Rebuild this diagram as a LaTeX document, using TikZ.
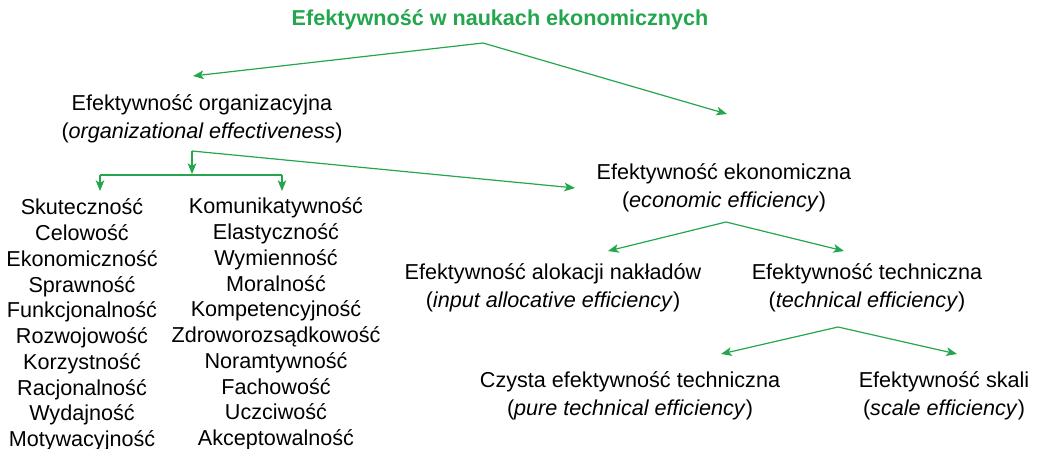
\documentclass[tikz,border=0pt]{standalone}
\usepackage{fontspec}
\setmainfont{Liberation Sans}
\usetikzlibrary{positioning,arrows.meta,calc}
\definecolor{effgreen}{RGB}{36,166,78}

\begin{document}
\begin{tikzpicture}[
    x=0.75pt, y=-0.75pt,
    lbl/.style={align=center, inner sep=0pt, font=\fontsize{16.2}{21}\selectfont},
    lst/.style={align=center, inner sep=0pt, font=\fontsize{16.2}{19.3}\selectfont},
    arrow/.style={-{Stealth[length=8pt, width=6.5pt, inset=2pt]}, effgreen, line width=0.9pt}
]
\useasboundingbox (0,0) rectangle (1042,449);

% Title
\node[lbl, font=\fontsize{16.2}{21}\selectfont\bfseries, text=effgreen] (title) at (500,20) {Efektywność w naukach ekonomicznych};

% Main branches
\node[lbl] (org) at (202,119) {Efektywność organizacyjna\\(\textit{organizational effectiveness})};
\node[lbl] (econ) at (724,188) {Efektywność ekonomiczna\\(\textit{economic efficiency})};

\coordinate (split0) at (483,43);
\coordinate (orgin) at (193,76);
\coordinate (econin) at (727,114);
\draw[arrow] (split0) -- (orgin);
\draw[arrow] (split0) -- (econin);

% Organizational lists
\node[lst] (listA) at (82,325) {Skuteczność\\Celowość\\Ekonomiczność\\Sprawność\\Funkcjonalność\\Rozwojowość\\Korzystność\\Racjonalność\\Wydajność\\Motywacyjność};
\node[lst] (listB) at (276,324) {Komunikatywność\\Elastyczność\\Wymienność\\Moralność\\Kompetencyjność\\Zdroworozsądkowość\\Noramtywność\\Fachowość\\Uczciwość\\Akceptowalność};

\coordinate (split1) at (192,151);
\coordinate (bar1) at (192,174);
\coordinate (barA) at (100,175);
\coordinate (barB) at (282,175);
\coordinate (econin2) at (575,188);
\draw[arrow] (split1) -- (bar1);
\draw[effgreen, line width=0.9pt] (barA) -- (barB);
\draw[arrow] (barA) -- ++(0,16);
\draw[arrow] (barB) -- ++(0,16);
\draw[arrow] (split1) -- (econin2);

% Economic efficiency
\node[lbl] (alloc) at (553,288) {Efektywność alokacji nakładów\\(\textit{input allocative efficiency})};
\node[lbl] (tech) at (867,288) {Efektywność techniczna\\(\textit{technical efficiency})};

\coordinate (split2) at (726,222);
\draw[arrow] (split2) -- (608,251);
\draw[arrow] (split2) -- (844,251);

% Technical efficiency
\node[lbl] (pure) at (630,396) {Czysta efektywność techniczna\\(\textit{pure technical efficiency})};
\node[lbl] (scale) at (944,396) {Efektywność skali\\(\textit{scale efficiency})};

\coordinate (split3) at (838,327);
\draw[arrow] (split3) -- (721,354);
\draw[arrow] (split3) -- (957,354);

\end{tikzpicture}
\end{document}
